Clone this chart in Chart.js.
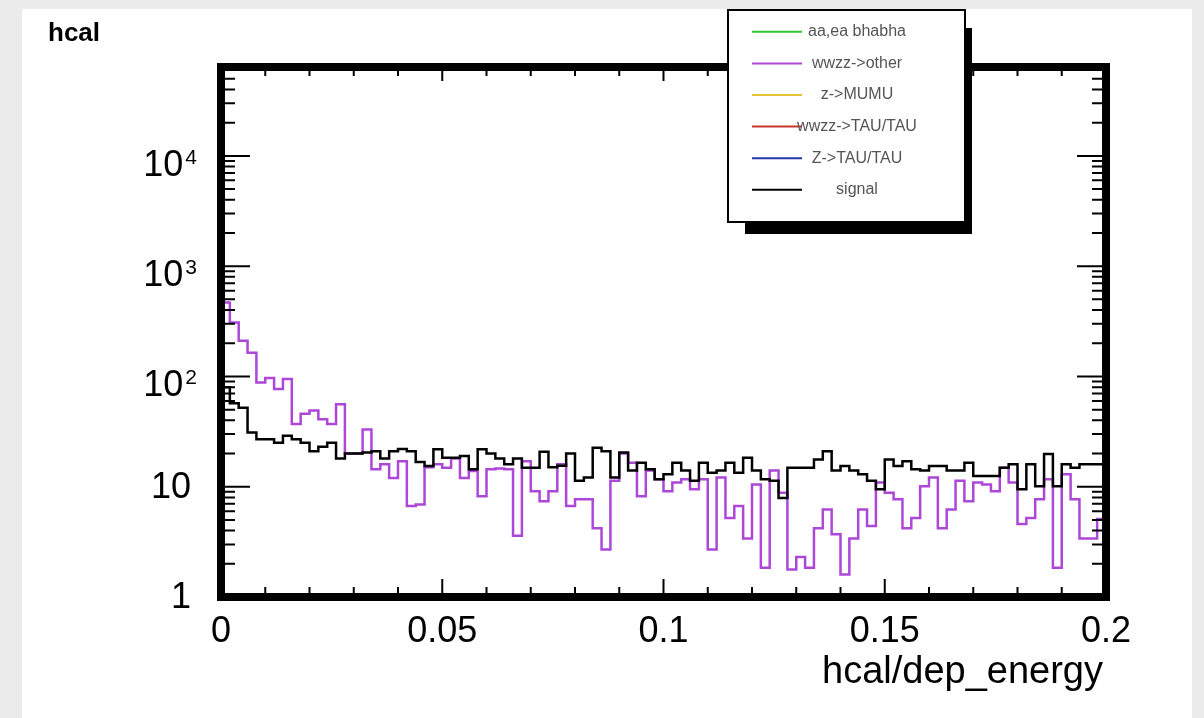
<!DOCTYPE html>
<html>
<head>
<meta charset="utf-8">
<title>hcal</title>
<script src="https://cdn.jsdelivr.net/npm/chart.js@4.4.0/dist/chart.umd.min.js"></script>
<style>
  html, body { margin: 0; padding: 0; background: #ebebeb; overflow: hidden; }
  #paper { position: absolute; left: 22px; top: 9px; width: 1170px; height: 709px; background: #fff; }
  #hcal { position: absolute; left: 0; top: 0; }
</style>
</head>
<body>
<div id="paper"></div>
<canvas id="hcal" width="1204" height="718"></canvas>
<script>
// histogram binning (hcal/dep_energy)
var binLow = 0;
var binHigh = 0.2;
var nBins = 100;

var xTickLabels = ['0', '0.05', '0.1', '0.15', '0.2'];
var xTickValues = [0, 0.05, 0.1, 0.15, 0.2];
var yDecades = [1, 10, 100, 1000, 10000];

var legendLabels = ['aa,ea bhabha', 'wwzz->other', 'z->MUMU', 'wwzz->TAU/TAU', 'Z->TAU/TAU', 'signal'];
var legendColors = ['#35c435', '#ad47d8', '#e3c33a', '#c8372a', '#2337a8', '#000000'];

// bin contents
var aaEaBhabha = [];
var zMuMu = [];
var wwzzTauTau = [];
var zTauTau = [];

var wwzzOther = [
    468, 308, 211, 164, 88, 97, 77, 95, 37, 46,
    49, 41, 37, 56, 20, 20, 33, 14.4, 16, 12,
    17, 6.7, 6.9, 15, 16, 14.9, 18, 12, 13.9, 8.2,
    14.4, 14.6, 14.4, 3.6, 17, 9.1, 7.4, 9.1, 16, 6.7,
    7.7, 7.7, 4.2, 2.7, 11.3, 20, 16.5, 8.2, 14, 11.7,
    9.1, 10.9, 11.7, 9.5, 11.7, 2.7, 12.1, 5.2, 6.7, 3.4,
    10.5, 1.84, 14, 8.8, 1.78, 2.3, 1.84, 4.2, 6.2, 3.7,
    1.6, 3.4, 6.2, 4.4, 10.9, 8.8, 7.7, 4.2, 5.2, 10.1,
    12.1, 4.2, 6.2, 11.3, 7.4, 10.9, 10.5, 9.1, 14.9, 10.9,
    4.6, 5.2, 7.7, 11.7, 1.84, 13, 7.7, 3.4, 3.4, 5.1
];

var signal = [
    80, 57, 52, 31, 27, 27, 25, 29, 27, 25,
    21, 23, 25, 18, 20, 20, 20.4, 21, 18, 21,
    22, 21, 16.8, 15.4, 21.9, 18.3, 18.3, 19, 14.4, 21.9,
    20, 18, 16, 18, 14.9, 14.9, 20.8, 15, 15.5, 20,
    11.3, 12.1, 22.6, 21, 12.1, 20.4, 14, 16.5, 14.4, 11.7,
    13, 16.5, 14, 11.3, 16.5, 13.4, 14, 16.5, 13.4, 18.3,
    14, 11.7, 11.3, 7.9, 14.9, 14.9, 14.9, 17.7, 21, 14,
    15.4, 14, 13, 11.3, 9.5, 17.7, 15.4, 17, 14.4, 14,
    15.4, 15.4, 14, 14, 16.5, 12.5, 12.5, 12.5, 14.9, 16,
    9.5, 16, 10.1, 19.8, 10.1, 16, 14.9, 16, 16, 16
];

var yMin = 1;
var yMax = 64000;

// turn bin contents into step outline points (value held until next edge)
function histPoints(counts) {
    if (!counts.length) return [];
    var w = (binHigh - binLow) / counts.length;
    var pts = [{x: binLow, y: yMin}];
    for (var i = 0; i < counts.length; i++) {
        pts.push({x: binLow + i * w, y: counts[i]});
    }
    pts.push({x: binHigh, y: counts[counts.length - 1]});
    return pts;
}

var seriesData = [aaEaBhabha, wwzzOther, zMuMu, wwzzTauTau, zTauTau, signal];

var datasets = seriesData.map(function(s, i) {
    return {
        label: legendLabels[i],
        data: histPoints(s),
        borderColor: legendColors[i],
        backgroundColor: legendColors[i],
        borderWidth: 2.5,
        pointRadius: 0,
        fill: false,
        stepped: 'before',
        order: i === seriesData.length - 1 ? 0 : 1
    };
});

var rootFrame = {
    id: 'rootFrame',
    afterDatasetsDraw: function(chart) {
        var ctx = chart.ctx;
        var a = chart.chartArea;
        var xs = chart.scales.x;
        var ys = chart.scales.y;
        ctx.save();
        ctx.strokeStyle = '#000';
        ctx.fillStyle = '#000';

        // ticks
        ctx.lineWidth = 2;
        ctx.beginPath();
        for (var k = 0; k <= 20; k++) {
            var px = xs.getPixelForValue(k / 100);
            var len = (k % 5 === 0) ? 18 : 10;
            ctx.moveTo(px, a.bottom); ctx.lineTo(px, a.bottom - len);
            ctx.moveTo(px, a.top); ctx.lineTo(px, a.top + (k % 5 === 0 ? 14 : 9));
        }
        for (var d = 0; d < yDecades.length; d++) {
            for (var m = 1; m <= 9; m++) {
                var v = yDecades[d] * m;
                if (v > yMax) break;
                var py = ys.getPixelForValue(v);
                var l = (m === 1) ? 29 : 14;
                ctx.moveTo(a.left, py); ctx.lineTo(a.left + l, py);
                ctx.moveTo(a.right, py); ctx.lineTo(a.right - l, py);
            }
        }
        ctx.stroke();

        // thick frame
        ctx.lineWidth = 8;
        ctx.strokeRect(a.left, a.top, a.right - a.left, a.bottom - a.top);

        // x labels
        ctx.font = '36px "Liberation Sans", Arial, sans-serif';
        ctx.textAlign = 'center';
        ctx.textBaseline = 'alphabetic';
        for (var t = 0; t < xTickValues.length; t++) {
            ctx.fillText(xTickLabels[t], xs.getPixelForValue(xTickValues[t]), 642);
        }

        // y labels, ROOT style 10^n
        for (var j = 0; j < yDecades.length; j++) {
            var ty = ys.getPixelForValue(yDecades[j]);
            if (j < 2) {
                ctx.font = '36px "Liberation Sans", Arial, sans-serif';
                ctx.textAlign = 'right';
                ctx.textBaseline = 'middle';
                ctx.fillText(String(yDecades[j]), 191, ty + 1);
            } else {
                ctx.textBaseline = 'alphabetic';
                ctx.textAlign = 'right';
                ctx.font = '21px "Liberation Sans", Arial, sans-serif';
                ctx.fillText(String(j), 197, ty + 8);
                var ew = ctx.measureText(String(j)).width;
                ctx.font = '36px "Liberation Sans", Arial, sans-serif';
                ctx.fillText('10', 197 - ew - 2, ty + 20);
            }
        }

        // axis title
        ctx.font = '38px "Liberation Sans", Arial, sans-serif';
        ctx.textAlign = 'right';
        ctx.textBaseline = 'alphabetic';
        ctx.fillText('hcal/dep_energy', 1103, 683);

        // histogram title
        ctx.font = 'bold 26px "Liberation Sans", Arial, sans-serif';
        ctx.textAlign = 'left';
        ctx.fillText('hcal', 48, 41);

        // legend box with shadow
        ctx.fillRect(745, 28, 227, 206);
        ctx.fillStyle = '#fff';
        ctx.fillRect(728, 10, 237, 212);
        ctx.lineWidth = 2;
        ctx.strokeRect(728, 10, 237, 212);
        var rowH = 31.6;
        chart.data.datasets.forEach(function(ds, i) {
            var ry = 16 + (i + 0.5) * rowH;
            ctx.strokeStyle = ds.borderColor;
            ctx.lineWidth = 2;
            ctx.beginPath();
            ctx.moveTo(752, ry); ctx.lineTo(802, ry);
            ctx.stroke();
            ctx.fillStyle = '#555';
            ctx.font = '16px "Liberation Sans", Arial, sans-serif';
            ctx.textAlign = 'center';
            ctx.textBaseline = 'middle';
            ctx.fillText(ds.label, 857, ry);
        });
        ctx.restore();
    }
};

var hcalContext = document.getElementById('hcal').getContext('2d');
var hcalChart = new Chart(hcalContext, {
    type: 'line',
    data: { datasets: datasets },
    options: {
        responsive: false,
        animation: false,
        devicePixelRatio: 1,
        layout: { padding: { left: 221, top: 67, right: 98, bottom: 121 } },
        plugins: { legend: { display: false }, tooltip: { enabled: false } },
        scales: {
            x: { type: 'linear', min: binLow, max: binHigh, display: false },
            y: { type: 'logarithmic', min: yMin, max: yMax, display: false }
        }
    },
    plugins: [rootFrame]
});
</script>
</body>
</html>
